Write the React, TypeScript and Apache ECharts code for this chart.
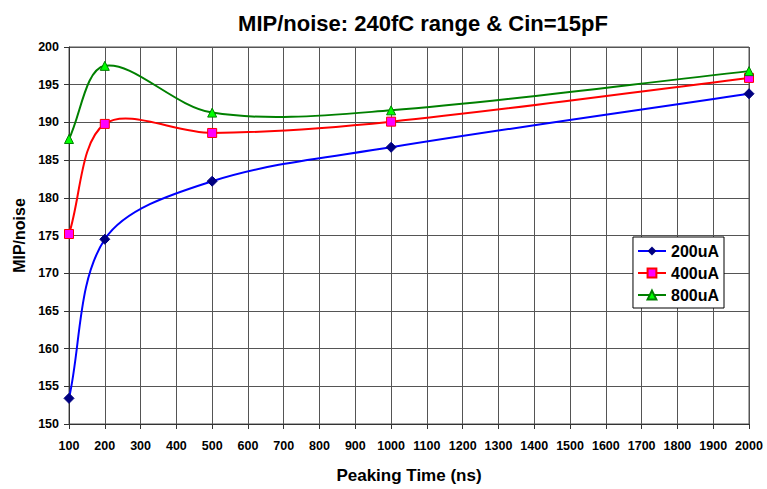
import React, { useEffect, useRef } from "react";
import * as echarts from "echarts";

const peakingTimes = [100, 200, 500, 1000, 2000];
const s200uA = [153.4, 174.5, 182.2, 186.7, 193.8];
const s400uA = [175.2, 189.8, 188.6, 190.1, 195.9];
const s800uA = [187.8, 197.5, 191.3, 191.6, 196.8];
const seriesNames = ["200uA", "400uA", "800uA"];

const FONT = "'Liberation Sans', Arial, sans-serif";

// Excel-style smoothed curve drawn through the chart's own coordinate system
function curveSeries(name: string, vals: number[], color: string) {
  return {
    type: "custom",
    name: name + " curve",
    data: peakingTimes.map((x, i) => [x, vals[i]]),
    encode: { x: 0, y: 1 },
    z: 2,
    silent: true,
    renderItem: (params: any, api: any) => {
      const i = params.dataIndex;
      const n = vals.length;
      if (i >= n - 1) return null;
      const P = (k: number) => {
        const j = Math.max(0, Math.min(n - 1, k));
        return api.coord([peakingTimes[j], vals[j]]);
      };
      const p0 = P(i - 1);
      const p1 = P(i);
      const p2 = P(i + 1);
      const p3 = P(i + 2);
      const dist = (a: number[], b: number[]) => Math.hypot(a[0] - b[0], a[1] - b[1]);
      const d01 = dist(p0, p1);
      const d12 = dist(p1, p2);
      const d23 = dist(p2, p3);
      const f = 1 / 6;
      const fa = d01 + d12 > 0 ? (2 * d12) / (d01 + d12) : 1;
      const fb = d12 + d23 > 0 ? (2 * d12) / (d12 + d23) : 1;
      const cpx1 = p1[0] + (p2[0] - p0[0]) * f * fa;
      const cpy1 = p1[1] + (p2[1] - p0[1]) * f * fa;
      const cpx2 = p2[0] - (p3[0] - p1[0]) * f * fb;
      const cpy2 = p2[1] - (p3[1] - p1[1]) * f * fb;
      return {
        type: "bezierCurve",
        shape: { x1: p1[0], y1: p1[1], x2: p2[0], y2: p2[1], cpx1, cpy1, cpx2, cpy2 },
        style: { stroke: color, lineWidth: 2, fill: null },
      };
    },
  };
}

export default function App() {
  const ref = useRef<HTMLDivElement>(null);
  useEffect(() => {
    const chart = echarts.init(ref.current!, null, { renderer: "svg" });
    const mk = (vals: number[]) => peakingTimes.map((x, i) => [x, vals[i]]);
    const lineColors = ["#0000ff", "#ff0000", "#008000"];
    chart.setOption({
      animation: false,
      backgroundColor: "#fff",
      title: {
        text: "MIP/noise: 240fC range & Cin=15pF",
        left: 418,
        textAlign: "center",
        top: 7,
        textStyle: { fontFamily: FONT, fontSize: 22, fontWeight: "bold", color: "#000" },
      },
      grid: { left: 69, right: 18, top: 47, bottom: 62, show: true, borderColor: "#555", borderWidth: 1 },
      legend: {
        orient: "vertical",
        right: 43,
        top: 237,
        backgroundColor: "#fff",
        borderColor: "#000",
        borderWidth: 1,
        padding: [6, 5, 5, 4],
        itemGap: 6,
        itemWidth: 28,
        itemHeight: 11,
        textStyle: { fontFamily: FONT, fontSize: 16, fontWeight: "bold", color: "#000" },
        data: seriesNames.map((name, k) => ({
          name,
          lineStyle: { opacity: 1, color: lineColors[k], width: 2 },
        })),
      },
      xAxis: {
        type: "value",
        min: 100,
        max: 2000,
        interval: 100,
        name: "Peaking Time (ns)",
        nameLocation: "middle",
        nameGap: 43,
        nameTextStyle: { fontFamily: FONT, fontSize: 17, fontWeight: "bold", color: "#000" },
        axisLine: { lineStyle: { color: "#333" } },
        axisTick: { show: true, length: 5, lineStyle: { color: "#333" } },
        axisLabel: {
          fontFamily: FONT, fontSize: 12.5, fontWeight: "bold", color: "#000", margin: 15,
          formatter: (v: number) => String(v),
        },
        splitLine: { show: true, lineStyle: { color: "#555", width: 1 } },
      },
      yAxis: {
        type: "value",
        min: 150,
        max: 200,
        interval: 5,
        name: "MIP/noise",
        nameLocation: "middle",
        nameGap: 42,
        nameTextStyle: { fontFamily: FONT, fontSize: 16, fontWeight: "bold", color: "#000" },
        axisLine: { show: true, lineStyle: { color: "#333" } },
        axisTick: { show: true, length: 5, lineStyle: { color: "#333" } },
        axisLabel: { fontFamily: FONT, fontSize: 12.5, fontWeight: "bold", color: "#000", margin: 10 },
        splitLine: { show: true, lineStyle: { color: "#555", width: 1 } },
      },
      series: [
        curveSeries("200uA", s200uA, lineColors[0]),
        curveSeries("400uA", s400uA, lineColors[1]),
        curveSeries("800uA", s800uA, lineColors[2]),
        {
          type: "line",
          name: "200uA",
          data: mk(s200uA),
          symbol: "diamond",
          symbolSize: 10,
          lineStyle: { color: lineColors[0], width: 2, opacity: 0 },
          itemStyle: { color: "#000080", borderColor: "#000080" },
          z: 3,
        },
        {
          type: "line",
          name: "400uA",
          data: mk(s400uA),
          symbol: "rect",
          symbolSize: 9,
          lineStyle: { color: lineColors[1], width: 2, opacity: 0 },
          itemStyle: { color: "#ff00ff", borderColor: "#ff0000", borderWidth: 1 },
          z: 4,
        },
        {
          type: "line",
          name: "800uA",
          data: mk(s800uA),
          symbol: "triangle",
          symbolSize: 9,
          lineStyle: { color: lineColors[2], width: 2, opacity: 0 },
          itemStyle: { color: "#00ff00", borderColor: "#008000", borderWidth: 1 },
          z: 5,
        },
      ],
    });
    return () => chart.dispose();
  }, []);
  return (
    <div
      ref={ref}
      style={{ position: "absolute", left: 0, top: 0, width: 767, height: 489 }}
    />
  );
}
